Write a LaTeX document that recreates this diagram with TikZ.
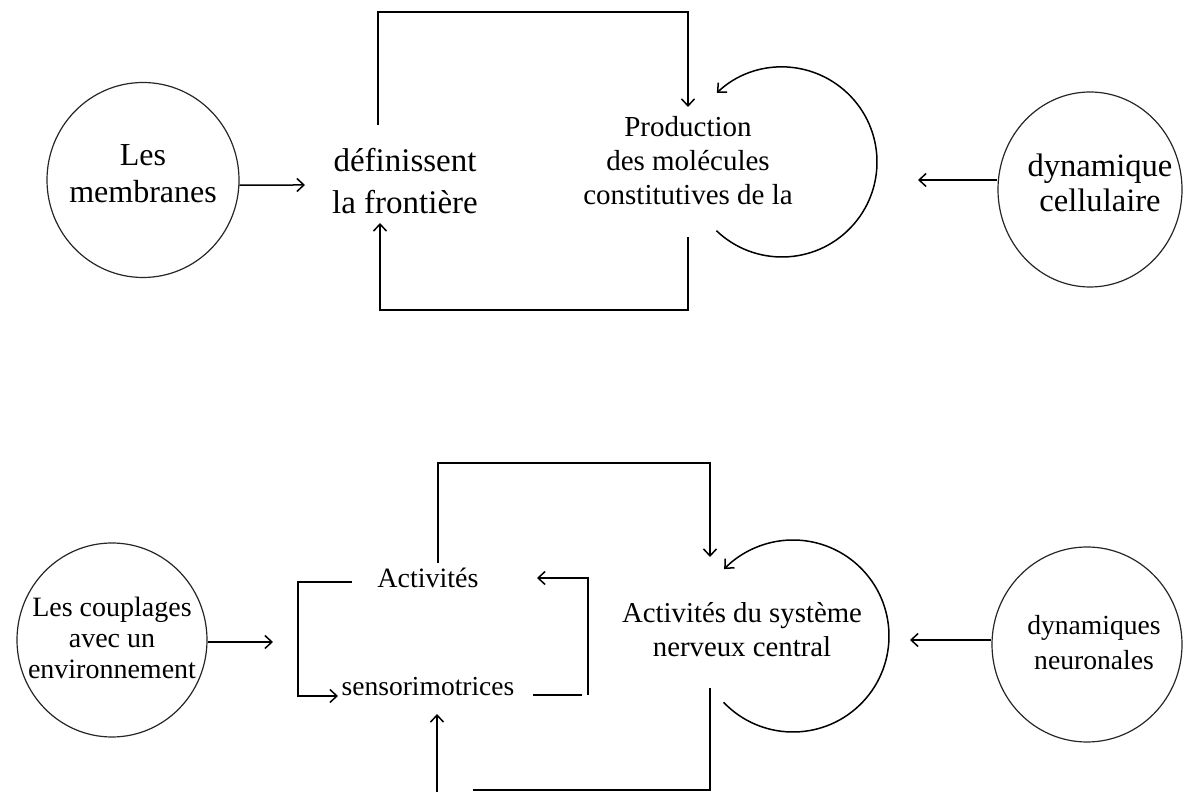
\documentclass[tikz,border=0pt]{standalone}
\usepackage{fontspec}
\setmainfont{Liberation Serif}
\usetikzlibrary{arrows.meta,shapes.geometric,calc}
\begin{document}
\begin{tikzpicture}[x=1pt,y=1pt,
  conn/.style={line width=1.5pt,black},
  arr/.style={conn,-{Straight Barb[length=7pt,width=13pt]}},
  ring/.style={draw=black!85,line width=1.2pt,ellipse,inner sep=0pt},
  txt/.style={align=center,inner sep=0pt,text=black}]
\useasboundingbox (0,0) rectangle (1184,792);
% ---------- top ----------
\node[ring,minimum width=192pt,minimum height=195pt] (c1) at (143,612) {};
\node[txt,font=\fontsize{32}{37}\selectfont] (t0) at (143,618.5) {Les\\membranes};
\node[txt,font=\fontsize{33}{42}\selectfont] (t1) at (405,611) {définissent\\la frontière};
\node[txt,font=\fontsize{29}{34}\selectfont] (t2) at (688,631) {Production\\des molécules\\constitutives de la};
\node[ring,minimum width=184pt,minimum height=195pt] (c2) at (1090,602.5) {};
\node[txt,font=\fontsize{32.6}{35}\selectfont] (t3) at (1100,609.5) {dynamique\\cellulaire};

\coordinate (a1e) at (305,607);
\draw[arr] (c1.-3) -- (a1e);
\coordinate (l1a) at (378,667);
\coordinate (l1b) at (688,685);
\draw[arr] (l1a) -- (378,780) -- (688,780) -- (l1b);
\coordinate (s1c) at (782,630);
\draw[arr] ($(s1c)+(226.3:95)$) arc (226.3:493.3:95);
\coordinate (l2a) at (688,555);
\coordinate (l2b) at (380,569);
\draw[arr] (l2a) -- (688,482) -- (380,482) -- (l2b);
\coordinate (a2e) at (918,612);
\draw[arr] (c2.west |- a2e) -- (a2e);

% ---------- bottom ----------
\node[ring,minimum width=190pt,minimum height=194pt] (c3) at (112,152) {};
\node[txt,font=\fontsize{28}{31}\selectfont] (t4) at (112,154.5) {Les couplages\\avec un\\environnement};
\node[txt,anchor=base,font=\fontsize{28}{31}\selectfont] (t5) at (428,204) {Activités};
\node[txt,anchor=base,font=\fontsize{27.5}{31}\selectfont] (t6) at (428,96) {sensorimotrices};
\node[txt,font=\fontsize{28.8}{34}\selectfont] (t7) at (742,162) {Activités du système\\nerveux central};
\node[ring,minimum width=190pt,minimum height=195pt] (c4) at (1087,147.5) {};
\node[txt,font=\fontsize{27.6}{35}\selectfont] (t8) at (1094,149.5) {dynamiques\\neuronales};

\coordinate (a3e) at (273,150);
\draw[arr] (c3.east |- a3e) -- (a3e);
\coordinate (b1a) at (352,210);
\coordinate (b1b) at (338,96);
\draw[arr] (b1a) -- (298,210) -- (298,96) -- (b1b);
\coordinate (b2a) at (533,97);
\coordinate (b2b) at (582,97);
\draw[conn] (b2a) -- (b2b);
\coordinate (b3a) at (588,97);
\coordinate (b3b) at (537,214);
\draw[arr] (b3a) -- (588,214) -- (b3b);
\coordinate (l3a) at (438,229);
\coordinate (l3b) at (710,235);
\draw[arr] (l3a) -- (438,329) -- (710,329) -- (l3b);
\coordinate (s2c) at (793,156);
\draw[arr] ($(s2c)+(223.7:96)$) arc (223.7:495.8:96);
\coordinate (l4a) at (710,104);
\coordinate (l4b) at (473,2);
\draw[conn] (l4a) -- (710,2) -- (l4b);
\coordinate (l5a) at (437,0);
\coordinate (l5b) at (437,78);
\draw[arr] (l5a) -- (l5b);
\coordinate (a4e) at (910,152);
\draw[arr] (c4.west |- a4e) -- (a4e);
\end{tikzpicture}
\end{document}
